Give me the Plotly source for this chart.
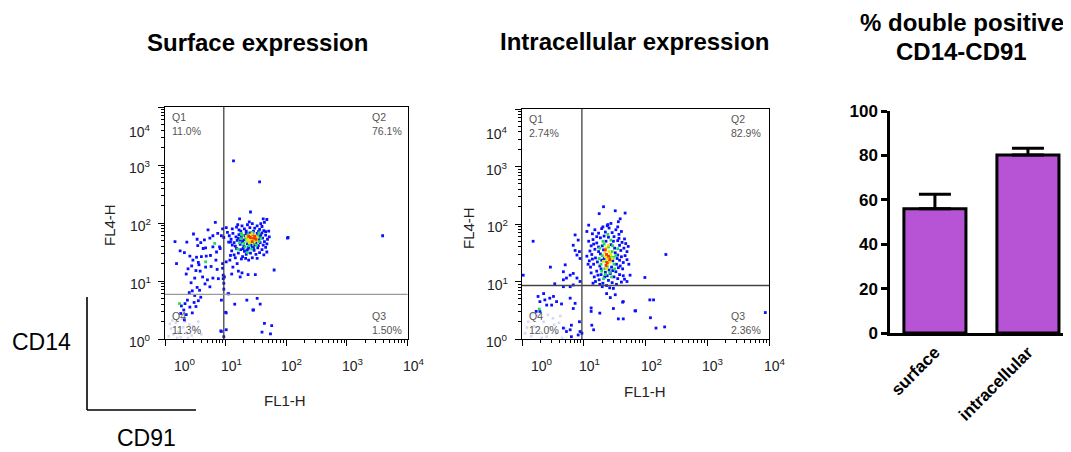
import numpy as np
import plotly.graph_objects as go

# ---------------- DATA ----------------
# Flow cytometry events, values are log10(fluorescence) : (FL1-H, FL4-H)
# Surface expression panel
surf_low = [
    (1.13, 3.07), (1.56, 2.71), (1.41, 2.19), (0.83, 2.01), (1.23, 2.07), (1.62, 2.07), (1.68, 2.06), (1.64, 2.01),
    (0.71, 1.88), (0.95, 1.90), (1.01, 1.92), (1.11, 1.90), (0.47, 1.81), (0.165, 1.68), (0.36, 1.67), (0.53, 1.72),
    (0.59, 1.66), (0.65, 1.71), (0.74, 1.74), (0.79, 1.78), (0.87, 1.82), (0.93, 1.78), (0.97, 1.75), (1.03, 1.84),
    (1.05, 1.67), (1.71, 1.86), (2.02, 1.74), (0.25, 1.52), (0.32, 1.49), (0.19, 1.30), (0.41, 1.43), (0.46, 1.36),
    (0.52, 1.41), (0.55, 1.32), (0.60, 1.42), (0.68, 1.43), (0.75, 1.44), (0.84, 1.36), (0.85, 1.50), (0.91, 1.56),
    (0.90, 1.59), (0.79, 1.59), (0.63, 1.56), (0.54, 1.61), (0.67, 1.57), (0.38, 1.21), (0.44, 1.26), (0.51, 1.18),
    (0.56, 1.28), (0.58, 1.17), (0.67, 1.24), (0.76, 1.25), (0.86, 1.20), (0.95, 1.22), (1.01, 1.33), (1.07, 1.36),
    (1.12, 1.24), (1.19, 1.30), (1.10, 1.12), (1.21, 1.17), (1.27, 1.14), (0.98, 1.07), (0.96, 1.04), (0.88, 1.04),
    (0.79, 1.05), (0.70, 1.02), (0.62, 1.07), (0.49, 1.05), (0.43, 0.97), (0.35, 1.12), (0.66, 0.95), (0.74, 0.90),
    (0.53, 0.89), (0.57, 0.84), (0.45, 0.83), (0.40, 0.80), (0.49, 0.75), (0.59, 0.72), (0.37, 0.67), (0.33, 0.61),
    (0.27, 0.57), (0.41, 0.55), (0.48, 0.63), (0.55, 0.66), (0.31, 0.50), (0.45, 0.45), (0.35, 0.42), (0.51, 0.56),
    (0.32, 0.33), (0.26, 0.44), (1.04, 0.78), (0.93, 0.67), (1.15, 0.60), (1.35, 0.67), (1.52, 0.70), (1.57, 0.60),
    (1.45, 0.50), (1.01, 0.45), (1.80, 1.19), (1.37, 1.11), (1.49, 1.11), (1.24, 1.07), (1.64, 0.27), (1.60, 0.12),
    (1.74, 0.09), (0.93, 0.13), (0.97, 0.04), (2.03, 1.75), (3.59, 1.78), (1.46, 0.50), (1.76, 0.23), (1.00, 0.46),
    (1.01, 0.16), (0.92, 0.14), (1.05, 0.78), (0.96, 1.10), (0.97, 0.96), (0.97, 0.86), (0.95, 1.30),
    # cluster
    (1.18, 1.93), (1.22, 1.88), (1.27, 1.95), (1.31, 1.90), (1.36, 1.97), (1.40, 1.92), (1.44, 1.99), (1.48, 1.91),
    (1.52, 1.95), (1.56, 1.89), (1.60, 1.94), (1.34, 1.86), (1.25, 1.86), (1.46, 1.86), (1.54, 1.85), (1.63, 1.87),
    (1.20, 1.97), (1.39, 2.02), (1.58, 1.99), (1.06, 1.78), (1.09, 1.72), (1.12, 1.82), (1.14, 1.66), (1.17, 1.76),
    (1.19, 1.70), (1.22, 1.80), (1.24, 1.63), (1.11, 1.62), (1.16, 1.60), (1.21, 1.74), (1.08, 1.67), (1.58, 1.80),
    (1.61, 1.74), (1.64, 1.68), (1.66, 1.79), (1.69, 1.72), (1.62, 1.62), (1.57, 1.66), (1.68, 1.64), (1.72, 1.76),
    (1.60, 1.83), (1.66, 1.85), (1.10, 1.52), (1.14, 1.45), (1.18, 1.56), (1.21, 1.48), (1.25, 1.54), (1.28, 1.42),
    (1.31, 1.51), (1.34, 1.46), (1.37, 1.55), (1.41, 1.48), (1.44, 1.40), (1.47, 1.53), (1.50, 1.46), (1.53, 1.57),
    (1.56, 1.49), (1.60, 1.54), (1.63, 1.45), (1.66, 1.58), (1.26, 1.38), (1.38, 1.36), (1.52, 1.39), (1.16, 1.40),
    (1.08, 1.44), (1.44, 1.58), (1.30, 1.60), (1.68, 1.50), (1.33, 1.39), (1.28, 1.68), (1.32, 1.78), (1.36, 1.64),
    (1.40, 1.83), (1.48, 1.62), (1.52, 1.82), (1.55, 1.72), (1.26, 1.76), (1.30, 1.71), (1.38, 1.58), (1.50, 1.66),
    (1.45, 1.80), (1.42, 1.62), (1.34, 1.82), (1.57, 1.77), (1.24, 1.70), (1.29, 1.56), (1.46, 1.57), (1.54, 1.61),
    (1.35, 1.53),
]
surf_mid = [
    (1.25, 1.73), (1.30, 1.65), (1.33, 1.74), (1.37, 1.80), (1.41, 1.67), (1.44, 1.84), (1.49, 1.73), (1.53, 1.77),
    (1.55, 1.68), (1.47, 1.65), (1.35, 1.69), (1.28, 1.79), (1.39, 1.61), (1.51, 1.62), (1.58, 1.74), (1.23, 1.66),
    (1.43, 1.55), (1.32, 1.59), (1.20, 1.55), (1.36, 1.49), (1.26, 1.82), (1.55, 1.83), (0.24, 0.61), (0.82, 1.65),
    (0.67, 1.33),
]
surf_high = [
    (1.37, 1.74), (1.40, 1.78), (1.45, 1.72), (1.48, 1.79), (1.51, 1.70), (1.42, 1.70), (1.34, 1.77), (1.47, 1.68),
    (1.39, 1.66), (1.52, 1.75), (1.43, 1.81), (1.36, 1.70),
]
surf_peak = [(1.41, 1.75), (1.46, 1.74), (1.50, 1.72), (1.44, 1.68), (1.38, 1.77), (1.48, 1.77)]
surf_faint = [
    (0.06, 0.05), (0.10, 0.18), (0.14, 0.08), (0.18, 0.28), (0.22, 0.12), (0.26, 0.03), (0.30, 0.20), (0.35, 0.10),
    (0.40, 0.25), (0.44, 0.06), (0.50, 0.15), (0.55, 0.30), (0.60, 0.08), (0.12, 0.32), (0.28, 0.35), (0.38, 0.02),
    (0.47, 0.22), (0.08, 0.26), (0.20, 0.02), (0.33, 0.30),
]

# Intracellular expression panel
intra_low = [
    (1.32, 2.30), (1.25, 2.18), (1.51, 2.23), (1.67, 2.19), (1.59, 2.09), (1.56, 2.04), (1.44, 2.01), (1.38, 1.97),
    (1.31, 1.95), (1.08, 1.98), (1.05, 1.87), (0.86, 1.81), (0.91, 1.72), (0.18, 1.70), (0.83, 1.63), (0.86, 1.54),
    (0.93, 1.52), (0.89, 1.46), (0.94, 1.40), (0.70, 1.29), (0.46, 1.25), (0.67, 1.17), (0.02, 1.11), (0.83, 1.14),
    (0.78, 1.11), (0.72, 1.06), (0.67, 1.03), (0.53, 0.96), (0.89, 1.06), (0.94, 1.00), (2.33, 1.47), (1.99, 1.07),
    (1.75, 1.11), (1.70, 1.00), (0.83, 0.94), (0.78, 0.91), (0.67, 0.91), (0.35, 0.79), (0.26, 0.74), (0.29, 0.65),
    (0.37, 0.68), (0.45, 0.71), (0.51, 0.74), (0.56, 0.65), (0.40, 0.59), (0.23, 0.48), (0.29, 0.48), (0.48, 0.59),
    (0.64, 0.61), (0.78, 0.71), (0.86, 0.62), (0.83, 0.53), (1.43, 0.72), (1.37, 0.79), (1.48, 0.88), (1.51, 0.77),
    (1.64, 0.65), (2.07, 0.68), (2.13, 0.68), (1.83, 0.49), (1.12, 0.54), (1.12, 0.48), (1.26, 0.45), (1.48, 0.53),
    (1.56, 0.35), (1.13, 0.24), (1.16, 0.16), (2.17, 0.19), (2.31, 0.21), (2.08, 0.37), (0.93, 0.30), (0.80, 0.24),
    (0.78, 0.16), (0.72, 0.13), (0.67, 0.19), (0.94, 0.13), (0.91, 0.07), (0.80, 0.04), (3.94, 0.46), (0.97, 0.10),
    (1.63, 0.64), (1.84, 0.49), (1.64, 0.35),
    # cluster
    (1.18, 1.90), (1.24, 1.84), (1.29, 1.92), (1.35, 1.86), (1.41, 1.93), (1.46, 1.85), (1.52, 1.90), (1.57, 1.82),
    (1.21, 1.78), (1.33, 1.79), (1.49, 1.78), (1.61, 1.87), (1.14, 1.83), (1.39, 1.99), (1.27, 1.76), (1.55, 1.95),
    (1.08, 1.70), (1.12, 1.62), (1.15, 1.73), (1.18, 1.56), (1.21, 1.67), (1.24, 1.60), (1.10, 1.53), (1.16, 1.65),
    (1.55, 1.71), (1.58, 1.63), (1.62, 1.68), (1.65, 1.58), (1.68, 1.66), (1.60, 1.54), (1.72, 1.61), (1.57, 1.75),
    (1.66, 1.74), (1.70, 1.52), (1.05, 1.44), (1.09, 1.36), (1.13, 1.47), (1.16, 1.30), (1.19, 1.41), (1.22, 1.34),
    (1.11, 1.25), (1.07, 1.30), (1.14, 1.39), (1.55, 1.46), (1.58, 1.37), (1.61, 1.43), (1.64, 1.33), (1.67, 1.45),
    (1.59, 1.27), (1.70, 1.38), (1.63, 1.22), (1.73, 1.30), (1.56, 1.24), (1.12, 1.15), (1.17, 1.08), (1.21, 1.18),
    (1.25, 1.03), (1.28, 1.12), (1.31, 0.97), (1.34, 1.08), (1.37, 0.93), (1.40, 1.02), (1.43, 1.14), (1.46, 0.98),
    (1.49, 1.08), (1.52, 1.17), (1.55, 1.05), (1.58, 1.12), (1.61, 0.99), (1.64, 1.10), (1.35, 1.16), (1.23, 1.11),
    (1.47, 1.19), (1.30, 0.91), (1.42, 0.89), (1.26, 0.95), (1.19, 1.00), (1.53, 0.95), (1.66, 1.04), (1.15, 0.97),
    (1.27, 1.48), (1.30, 1.62), (1.33, 1.40), (1.36, 1.70), (1.44, 1.64), (1.47, 1.36), (1.50, 1.58), (1.53, 1.30),
    (1.26, 1.27), (1.29, 1.37), (1.45, 1.25), (1.51, 1.50), (1.24, 1.52), (1.40, 1.77), (1.48, 1.70), (1.32, 1.55),
    (1.54, 1.40), (1.28, 1.22), (1.41, 1.20), (1.38, 1.10),
]
intra_mid = [
    (1.26, 1.58), (1.30, 1.45), (1.33, 1.65), (1.36, 1.34), (1.40, 1.60), (1.43, 1.42), (1.46, 1.52), (1.49, 1.30),
    (1.52, 1.45), (1.28, 1.30), (1.34, 1.22), (1.44, 1.72), (1.38, 1.26), (1.47, 1.62), (1.31, 1.70), (1.42, 1.16),
    (1.50, 1.22), (1.25, 1.40), (1.35, 1.12), (1.48, 1.42), (1.39, 1.82), (1.29, 1.18), (1.55, 1.57), (1.32, 1.05),
    (1.45, 1.08), (0.28, 0.52),
]
intra_high = [
    (1.34, 1.50), (1.38, 1.40), (1.41, 1.52), (1.36, 1.58), (1.44, 1.47), (1.32, 1.35), (1.39, 1.30), (1.43, 1.34),
    (1.35, 1.43), (1.40, 1.63), (1.37, 1.22), (1.46, 1.40),
]
intra_peak = [(1.37, 1.47), (1.40, 1.44), (1.35, 1.55), (1.42, 1.38), (1.38, 1.33), (1.36, 1.28)]
intra_faint = [
    (0.05, 0.10), (0.10, 0.30), (0.15, 0.05), (0.20, 0.22), (0.25, 0.40), (0.30, 0.12), (0.35, 0.30), (0.40, 0.04),
    (0.45, 0.20), (0.50, 0.36), (0.55, 0.10), (0.60, 0.28), (0.65, 0.02), (0.70, 0.18), (0.18, 0.45), (0.32, 0.02),
    (0.42, 0.42), (0.52, 0.25), (0.62, 0.40), (0.08, 0.20),
]

# Quadrant gates (log10 FL1-H, log10 FL4-H) and quadrant percentages
surf_gate = (0.97, 0.77)
intra_gate = (0.97, 0.93)
quad_names = ["Q1", "Q2", "Q3", "Q4"]
surf_pct = ["11.0%", "76.1%", "1.50%", "11.3%"]
intra_pct = ["2.74%", "82.9%", "2.36%", "12.0%"]

# Bar chart: % double positive CD14-CD91
bar_cats = ["surface", "intracellular"]
bar_means = [56.0, 80.2]
bar_err = [6.5, 3.0]

decades = [0, 1, 2, 3, 4]

# ---------------- FIGURE ----------------
# the page body adds an 8px margin; the figure is sized/positioned to compensate
OFF = 8
W, H = 1071 - OFF, 452 - OFF


def fx(p):
    return (p - OFF) / W


def fy(p):
    return 1 - (p - OFF) / H


FONT = "Liberation Sans, Arial, Helvetica, sans-serif"
density_colors = ["#0a10ff", "#1ee04a", "#f0e400", "#ff3000"]
faint_color = "rgba(140,140,235,0.35)"

fig = go.Figure()


def add_events(sets, faint, xa, ya):
    fx_, fy_ = zip(*faint)
    fig.add_trace(go.Scatter(x=fx_, y=fy_, mode="markers", xaxis=xa, yaxis=ya, hoverinfo="skip",
                             marker=dict(symbol="square", size=2.6, color=faint_color, line_width=0)))
    for pts, col in zip(sets, density_colors):
        xs, ys = zip(*pts)
        fig.add_trace(go.Scatter(x=xs, y=ys, mode="markers", xaxis=xa, yaxis=ya, hoverinfo="skip",
                                 marker=dict(symbol="square", size=2.8, color=col, line_width=0)))


add_events([surf_low, surf_mid, surf_high, surf_peak], surf_faint, "x", "y")
add_events([intra_low, intra_mid, intra_high, intra_peak], intra_faint, "x2", "y2")

fig.add_trace(go.Bar(
    x=bar_cats, y=bar_means, width=0.667, xaxis="x3", yaxis="y3",
    marker=dict(color="#b754d6", line=dict(color="black", width=3)),
    error_y=dict(type="data", array=bar_err, arrayminus=[0, 0], symmetric=False,
                 color="black", thickness=3, width=16),
    hoverinfo="skip",
))

minor_vals = [k + np.log10(m) for k in range(4) for m in range(2, 10)]


def flow_axis(dom, anchor):
    return dict(domain=dom, range=[0, 4], showgrid=False, zeroline=False, anchor=anchor,
                showline=True, linecolor="black", linewidth=1, mirror=True,
                ticks="outside", ticklen=6, tickwidth=1, tickcolor="black",
                tickvals=decades, showticklabels=False, fixedrange=True,
                minor=dict(ticks="outside", ticklen=3, tickwidth=1, tickcolor="black",
                           tickvals=minor_vals, showgrid=False))


fig.update_layout(
    width=W, height=H, margin=dict(l=0, r=0, t=0, b=0, autoexpand=False),
    paper_bgcolor="white", plot_bgcolor="white", showlegend=False,
    font=dict(family=FONT, color="#222"),
    xaxis=flow_axis([fx(165), fx(407.5)], "y"), yaxis=flow_axis([fy(339), fy(107)], "x"),
    xaxis2=flow_axis([fx(522), fx(769)], "y2"), yaxis2=flow_axis([fy(339), fy(109)], "x2"),
    xaxis3=dict(domain=[fx(890), 1.0], range=[-0.483, 1.463], type="category", anchor="y3",
                showline=True, linecolor="black", linewidth=2.5, ticks="", showgrid=False,
                tickangle=-45, tickfont=dict(family=FONT, size=17, color="black", weight="bold"),
                fixedrange=True),
    yaxis3=dict(domain=[fy(333), fy(111)], range=[0, 100], tickvals=[0, 20, 40, 60, 80, 100],
                anchor="x3", showline=True, linecolor="black", linewidth=2.5, ticks="outside", ticklen=6,
                tickwidth=2.5, tickcolor="black", showgrid=False, zeroline=False,
                tickfont=dict(family=FONT, size=17, color="black", weight="bold"), fixedrange=True),
)

# gate lines
for gate, xa, ya, hcol in [(surf_gate, "x", "y", "#9a9a9a"), (intra_gate, "x2", "y2", "#444")]:
    fig.add_shape(type="line", xref=xa, yref=ya + " domain", x0=gate[0], x1=gate[0], y0=0, y1=1,
                  line=dict(color="#333", width=1.2))
    fig.add_shape(type="line", xref=xa + " domain", yref=ya, x0=0, x1=1, y0=gate[1], y1=gate[1],
                  line=dict(color=hcol, width=1.4))

ann = []
tick_font = dict(family=FONT, size=14, color="#222")
for xa, ya in [("x", "y"), ("x2", "y2")]:
    for k in decades:
        ann.append(dict(xref=xa, yref=ya + " domain", x=k, y=0, xanchor="left", yanchor="top",
                        xshift=(7 if k == 0 else -7), yshift=-15, showarrow=False,
                        text=f"10<sup>{k}</sup>", font=tick_font))
        ann.append(dict(xref=xa + " domain", yref=ya, x=0, y=k, xanchor="right", yanchor="middle",
                        xshift=-12, yshift=(-24 if k == 4 else -2), showarrow=False,
                        text=f"10<sup>{k}</sup>", font=tick_font))

# quadrant labels
qfont = dict(family=FONT, size=10.5, color="#555")
for xa, ya, pcts, rs in [("x", "y", surf_pct, -4), ("x2", "y2", intra_pct, -6)]:
    pos = {"Q1": (0, 1, "left", "top", 5, -2), "Q2": (1, 1, "right", "top", rs, -2),
           "Q3": (1, 0, "right", "bottom", rs, 1), "Q4": (0, 0, "left", "bottom", 5, 1)}
    for q, p in zip(quad_names, pcts):
        x, y, xan, yan, xs, ys = pos[q]
        ann.append(dict(xref=xa + " domain", yref=ya + " domain", x=x, y=y, xanchor=xan, yanchor=yan,
                        xshift=xs, yshift=ys, align="left", showarrow=False,
                        text=f"{q}<br>{p}", font=qfont))

# axis titles for flow plots
lab_font = dict(family=FONT, size=15, color="#222")
for px_, py_, txt, ang in [(285, 400, "FL1-H", 0), (645, 391, "FL1-H", 0),
                           (109, 225, "FL4-H", -90), (468, 228, "FL4-H", -90)]:
    ann.append(dict(xref="paper", yref="paper", x=fx(px_), y=fy(py_), xanchor="center",
                    yanchor="middle", text=txt, textangle=ang, showarrow=False, font=lab_font))

# panel titles
tfont = dict(family=FONT, size=24, color="black", weight="bold")
for px_, py_, txt in [(257, 43, "Surface expression"), (634, 41, "Intracellular expression"),
                      (962, 22, "% double positive"), (961, 51, "CD14-CD91")]:
    ann.append(dict(xref="paper", yref="paper", x=fx(px_), y=fy(py_), xanchor="center",
                    yanchor="middle", text=txt, showarrow=False, font=tfont))

# CD14 / CD91 key
kfont = dict(family=FONT, size=23, color="black")
ann.append(dict(xref="paper", yref="paper", x=fx(41), y=fy(342), text="CD14", showarrow=False,
                font=kfont, xanchor="center", yanchor="middle"))
ann.append(dict(xref="paper", yref="paper", x=fx(146), y=fy(438), text="CD91", showarrow=False,
                font=kfont, xanchor="center", yanchor="middle"))
fig.add_shape(type="line", xref="paper", yref="paper", x0=fx(87), x1=fx(87), y0=fy(297), y1=fy(410),
              line=dict(color="black", width=1.6))
fig.add_shape(type="line", xref="paper", yref="paper", x0=fx(87), x1=fx(196), y0=fy(410), y1=fy(410),
              line=dict(color="black", width=1.6))

fig.update_layout(annotations=ann)
fig.write_html("out.html")
